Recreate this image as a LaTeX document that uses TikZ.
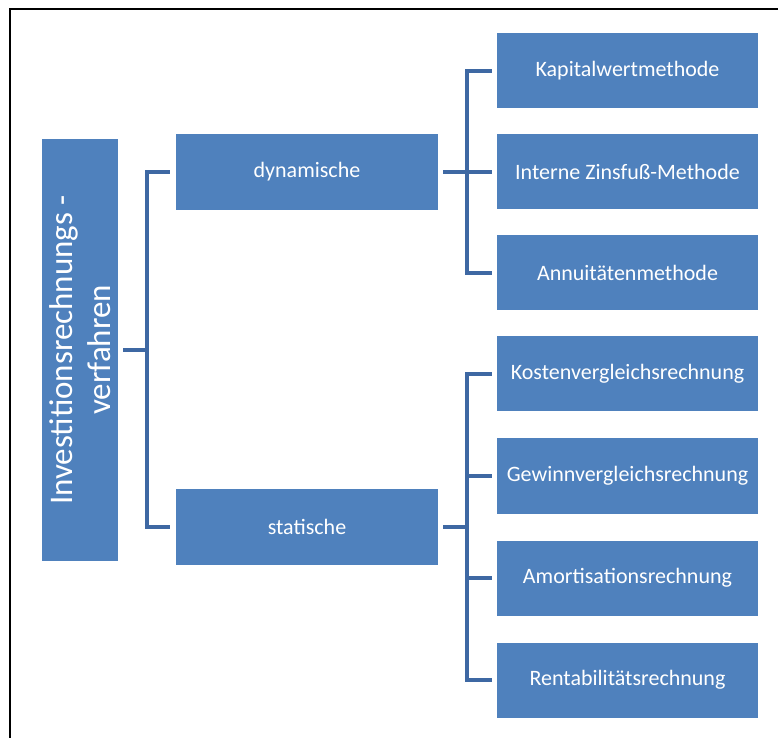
\documentclass[tikz,border=0pt]{standalone}
\usepackage{fontspec}
\setmainfont{Carlito}
\definecolor{boxblue}{RGB}{79,129,189}
\definecolor{lineblue}{RGB}{62,104,163}

\begin{document}
\begin{tikzpicture} [x=0.5pt,y=-0.5pt,
  box/.style={rectangle, fill=boxblue, text=white, inner sep=0pt, minimum width=131pt, minimum height=38pt, font=\fontsize{11}{13}\selectfont},
  leaf/.style={box, minimum width=130.5pt, minimum height=37.5pt},
  rootbox/.style={box, rotate=90, align=center, minimum width=211pt, minimum height=38pt, font=\fontsize{16.5}{19}\selectfont},
  link/.style={draw=lineblue, line width=2pt}]
\useasboundingbox (0,0) rectangle (778,738);
\draw[line width=1.2pt] (10,738) -- (10,9) -- (778,9);
\node[rootbox] (root) at (80,350) {Investitionsrechnungs -\\verfahren};
\node[box] (dyn) at (307,172) {dynamische};
\node[box] (stat) at (307,527) {statische};
\node[leaf] (kw) at (627.5,71) {Kapitalwertmethode};
\node[leaf] (izf) at (627.5,172) {Interne Zinsfuß-Methode};
\node[leaf] (ann) at (627.5,273) {Annuitätenmethode};
\node[leaf] (kvr) at (627.5,374) {Kostenvergleichsrechnung};
\node[leaf] (gvr) at (627.5,476) {Gewinnvergleichsrechnung};
\node[leaf] (amo) at (627.5,578) {Amortisationsrechnung};
\node[leaf] (ren) at (627.5,680) {Rentabilitätsrechnung};
\coordinate (busroot) at (147,350);
\coordinate (busdyn) at (467,172);
\coordinate (busstat) at (467,527);
\draw[link] ([xshift=2.5pt]root.south) -- (busroot);
\draw[link] ([xshift=-3pt]dyn.west) -| (busroot) |- ([xshift=-3pt]stat.west);
\draw[link] ([xshift=2.5pt]dyn.east) -- ([xshift=-2.5pt]izf.west);
\draw[link] ([xshift=-2.5pt]kw.west) -| (busdyn) |- ([xshift=-2.5pt]ann.west);
\draw[link] ([xshift=2.5pt]stat.east) -- (busstat);
\draw[link] ([xshift=-2.5pt]kvr.west) -| (busstat) |- ([xshift=-2.5pt]ren.west);
\draw[link] ([xshift=-2.5pt]gvr.west) -| (busstat);
\draw[link] ([xshift=-2.5pt]amo.west) -| (busstat);
\end{tikzpicture}
\end{document}
